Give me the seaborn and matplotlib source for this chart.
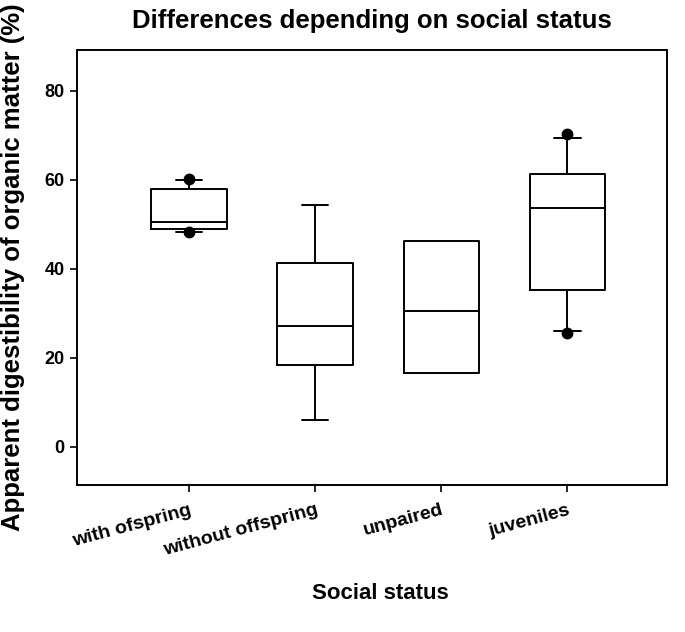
import matplotlib
matplotlib.use("Agg")
import matplotlib.pyplot as plt
import seaborn as sns

# -- Data -----------------------------------------------------
groups   = ["with ofspring", "without offspring", "unpaired", "juveniles"]
q1       = [48.9, 18.3, 16.5, 35.2]
medians  = [50.5, 27.2, 30.5, 53.7]
q3       = [57.8, 41.3, 46.1, 61.3]
wlow     = [48.3, 5.9, 16.5, 26.0]
whigh    = [59.9, 54.3, 46.1, 69.3]
fliers   = [[48.2, 60.1], [], [], [25.5, 70.2]]

sns.set_style("ticks")
plt.rcParams["font.family"] = ["Liberation Sans", "DejaVu Sans"]
plt.rcParams["font.weight"] = "bold"
plt.rcParams["text.color"] = "black"
plt.rcParams["axes.labelcolor"] = "black"
plt.rcParams["xtick.color"] = "black"
plt.rcParams["ytick.color"] = "black"

stats = []
for i, g in enumerate(groups):
    stats.append(dict(label=g, q1=q1[i], med=medians[i], q3=q3[i],
                      whislo=wlow[i], whishi=whigh[i], fliers=fliers[i]))

fig = plt.figure(figsize=(6.85, 6.32), dpi=100)
ax = fig.add_axes([0.1124, 0.2326, 0.8613, 0.6883])

lw = 1.4
has_whisk = [w_lo < q or w_hi > t for w_lo, w_hi, q, t in zip(wlow, whigh, q1, q3)]
ax.bxp(stats, positions=range(1, len(groups) + 1), widths=0.6,
       capwidths=[0.21 if h else 0.0 for h in has_whisk],
       boxprops=dict(color="black", linewidth=lw),
       medianprops=dict(color="black", linewidth=lw),
       whiskerprops=dict(color="black", linewidth=lw),
       capprops=dict(color="black", linewidth=lw),
       flierprops=dict(marker="o", markerfacecolor="black",
                       markeredgecolor="black", markersize=7.5))

ax.set_xlim(0.11, 4.79)
ax.set_ylim(-8.6, 89.1)
ax.set_yticks([0, 20, 40, 60, 80])
ax.set_xticks(range(1, len(groups) + 1))
ax.set_xticklabels(groups, rotation=15, ha="right", va="top",
                   rotation_mode="anchor", fontsize=14, fontweight="bold")
for lab in ax.get_yticklabels():
    lab.set_fontsize(13)
    lab.set_fontweight("bold")

for sp in ax.spines.values():
    sp.set_visible(True)
    sp.set_linewidth(1.4)
    sp.set_color("black")
ax.tick_params(axis="both", direction="out", length=5, width=1.2,
               color="black", pad=4)
ax.tick_params(axis="x", pad=7)

ax.set_title("Differences depending on social status",
             fontsize=18.5, fontweight="bold", pad=16)
ax.set_ylabel("Apparent digestibility of organic matter (%)",
              fontsize=18.5, fontweight="bold")
ax.yaxis.set_label_coords(-0.088, 0.5)
ax.set_xlabel("Social status", fontsize=16, fontweight="bold")
ax.xaxis.set_label_coords(0.515, -0.225)

fig.savefig("out.png", dpi=100)
